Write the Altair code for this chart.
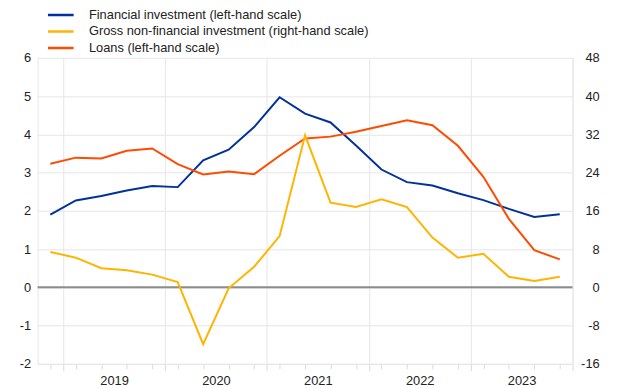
import altair as alt
import pandas as pd

# quarterly observations (2018 Q4 - 2023 Q4)
quarters = ["2018Q4",
            "2019Q1", "2019Q2", "2019Q3", "2019Q4",
            "2020Q1", "2020Q2", "2020Q3", "2020Q4",
            "2021Q1", "2021Q2", "2021Q3", "2021Q4",
            "2022Q1", "2022Q2", "2022Q3", "2022Q4",
            "2023Q1", "2023Q2", "2023Q3", "2023Q4"]

financial = [1.90, 2.27, 2.39, 2.53, 2.65, 2.62, 3.32, 3.60, 4.19, 4.97, 4.54,
             4.31, 3.71, 3.08, 2.75, 2.66, 2.46, 2.28, 2.05, 1.84, 1.91]
loans = [3.23, 3.39, 3.37, 3.57, 3.63, 3.22, 2.95, 3.03, 2.96, 3.44, 3.89,
         3.94, 4.07, 4.22, 4.37, 4.24, 3.70, 2.89, 1.79, 0.97, 0.73]
gross = [7.4, 6.2, 4.0, 3.55, 2.65, 1.1, -11.9, -0.2, 4.3, 10.7, 31.8,
         17.7, 16.8, 18.4, 16.8, 10.4, 6.2, 7.0, 2.2, 1.3, 2.2]

names = ["Financial investment (left-hand scale)",
         "Gross non-financial investment (right-hand scale)",
         "Loans (left-hand scale)"]
colors = ["#003299", "#ffb400", "#ff4b00"]

years = [2019, 2020, 2021, 2022, 2023]
left_ticks = [-2, -1, 0, 1, 2, 3, 4, 5, 6]
right_ticks = [-16, -8, 0, 8, 16, 24, 32, 40, 48]


def qpos(q):
    # centre of the quarter expressed in fractional years
    return int(q[:4]) + (int(q[5]) - 0.5) / 4


xs = [qpos(q) for q in quarters]

left_df = pd.DataFrame({
    "x": xs * 2,
    "value": financial + loans,
    "series": [names[0]] * len(xs) + [names[2]] * len(xs),
})
right_df = pd.DataFrame({"x": xs, "value": gross, "series": [names[1]] * len(xs)})

FONT = "Arial"
GRID = "#e6e6e6"
TXT = "#222222"

axis_values = sorted(set([float(y) for y in years] + [2024.0] + xs + [y + 0.5 for y in years]))

x_axis = alt.Axis(
    values=axis_values,
    title=None,
    labelExpr="datum.value % 1 == 0.5 ? floor(datum.value) : ''",
    labelFontSize=13, labelColor=TXT, labelFont=FONT, labelPadding=6,
    labelFlush=False, labelOverlap=False,
    tickSize=alt.condition("datum.value % 1 == 0", alt.value(7), alt.value(5)),
    tickOpacity=alt.condition("datum.value % 1 == 0.5", alt.value(0), alt.value(1)),
    tickColor="#d9d9d9",
    grid=True,
    gridColor=GRID,
    gridOpacity=alt.condition("datum.value % 1 == 0", alt.value(1), alt.value(0)),
    domainColor=GRID,
)
X = alt.X("x:Q", scale=alt.Scale(domain=[2018.75, 2024.0], nice=False, zero=False), axis=x_axis)

left_axis = alt.Axis(values=left_ticks, title=None, ticks=False, labelPadding=7,
                     labelExpr="datum.value + ''", labelOverlap=False,
                     labelFontSize=13, labelColor=TXT, labelFont=FONT,
                     grid=True, gridColor=GRID, domainColor=GRID,
                     orient="left")
left_scale = alt.Scale(domain=[-2, 6], nice=False)

color = alt.Color("series:N", scale=alt.Scale(domain=names, range=colors),
                  legend=alt.Legend(
                      title=None, orient="none", legendX=9, legendY=-51.5,
                      direction="vertical", symbolType="stroke", symbolSize=676,
                      symbolStrokeWidth=2.5, labelFontSize=13, labelFont=FONT,
                      labelColor=TXT, labelOffset=14, clipHeight=16, rowPadding=0.8,
                      padding=0, labelLimit=500))

left_lines = alt.Chart(left_df).mark_line(strokeWidth=2).encode(
    x=X,
    y=alt.Y("value:Q", scale=left_scale, axis=left_axis),
    color=color,
    detail="series:N",
)
zero = alt.Chart(pd.DataFrame({"value": [0]})).mark_rule(color="#8c8c8c", strokeWidth=2).encode(
    y=alt.Y("value:Q", scale=left_scale, axis=left_axis))

left = alt.layer(zero, left_lines)

right = alt.Chart(right_df).mark_line(strokeWidth=2).encode(
    x=X,
    y=alt.Y("value:Q", scale=alt.Scale(domain=[-16, 48], nice=False),
            axis=alt.Axis(values=right_ticks, title=None, ticks=False, labelPadding=27,
                          labelAlign="right",
                          labelExpr="datum.value + ''", labelOverlap=False,
                          labelFontSize=13, labelColor=TXT, labelFont=FONT,
                          grid=False, domainColor=GRID, orient="right")),
    color=color,
)

chart = alt.layer(left, right).resolve_scale(y="independent").properties(
    width=542, height=310,
    autosize=alt.AutoSizeParams(type="none"),
    padding={"left": 30, "top": 48, "right": 40, "bottom": 21},
).configure_view(stroke=None)

chart.save("out.html", embed_options={"renderer": "svg", "actions": False})
